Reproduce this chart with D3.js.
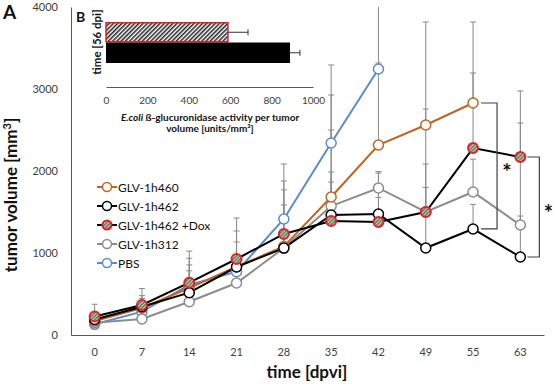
<!DOCTYPE html>
<html><head><meta charset="utf-8">
<script src="https://cdn.jsdelivr.net/npm/d3@7"></script>
<style>body{margin:0;background:#fff}svg{display:block;font-family:Lato,"Open Sans",sans-serif}</style>
</head><body><svg id="c" width="553" height="384"></svg>
<script>
const days = ["0","7","14","21","28","35","42","49","55","63"];
const yTicks = [0,1000,2000,3000,4000];
const seriesNames = ["GLV-1h460","GLV-1h462","GLV-1h462 +Dox","GLV-1h312","PBS"];
const v460 = [170,330,573,833,1080,1683,2317,2561,2829,null];
const v462 = [190,345,516,829,1060,1463,1475,1061,1293,951];
const vDox = [225,366,638,927,1232,1390,1378,1500,2280,2171];
const v312 = [150,195,406,634,1060,1573,1793,1500,1744,1341];
const vPBS = [130,285,610,772,1415,2341,3244,null,null,null];
const e460 = [80,150,210,435,690,1244,1000,1256,988,null];
const e462 = [70,100,420,305,525,525,500,1024,300,500];
const eDox = [150,200,385,500,646,476,300,300,915,805];
const e312 = [60,80,120,150,200,927,200,1256,400,1244];
const ePBS = [70,120,245,150,670,952,900,null,null,null];
const insetCats = ["GLV-1h462 +Dox","GLV-1h462"];
const insetVals = [589,889];
const insetErrs = [97,48];
const insetTicks = [0,200,400,600,800,1000];

const svg = d3.select("#c");
const defs = svg.append("defs");
const pat = defs.append("pattern").attr("id","hatch").attr("patternUnits","userSpaceOnUse")
  .attr("width",3).attr("height",3).attr("patternTransform","rotate(45)");
pat.append("rect").attr("width",3).attr("height",3).attr("fill","#fff");
pat.append("rect").attr("width",1.5).attr("height",3).attr("fill","#222");
const pat2 = defs.append("pattern").attr("id","hatchM").attr("patternUnits","userSpaceOnUse")
  .attr("width",2.5).attr("height",2.5).attr("patternTransform","rotate(45)");
pat2.append("rect").attr("width",2.5).attr("height",2.5).attr("fill","#c8d0b8");
pat2.append("rect").attr("width",1.2).attr("height",2.5).attr("fill","#55664a");
defs.append("clipPath").attr("id","plotclip").append("rect").attr("x",60).attr("y",7).attr("width",493).attr("height",340);

const x = d3.scaleBand().domain(days).range([71,544]);
const xc = d => x(d) + x.bandwidth()/2;
const y = d3.scaleLinear().domain([0,4000]).range([335,7]);

const series = [
  {name:seriesNames[0], v:v460, e:e460, color:"#c0651f", fill:"#fff", mstroke:"#c0651f"},
  {name:seriesNames[1], v:v462, e:e462, color:"#000", fill:"#fff", mstroke:"#000"},
  {name:seriesNames[2], v:vDox, e:eDox, color:"#000", fill:"url(#hatchM)", mstroke:"#e0202a"},
  {name:seriesNames[3], v:v312, e:e312, color:"#8c8c8c", fill:"#fff", mstroke:"#8c8c8c"},
  {name:seriesNames[4], v:vPBS, e:ePBS, color:"#5b8ad0", fill:"#fff", mstroke:"#5b8ad0"}
];

// axes
const ya = svg.append("g").attr("transform","translate(71,0)")
  .call(d3.axisLeft(y).tickValues(yTicks).tickSize(0).tickPadding(13).tickFormat(d3.format("d")));
ya.select(".domain").attr("stroke","#595959");
ya.selectAll("text").attr("font-size",11).attr("fill","#404040").attr("font-family","Lato,sans-serif");
const xa = svg.append("g").attr("transform","translate(0,335)")
  .call(d3.axisBottom(x).tickSize(0).tickPadding(13));
xa.select(".domain").attr("stroke","#595959");
xa.selectAll("text").attr("font-size",11).attr("fill","#404040").attr("font-family","Lato,sans-serif");

// error bars
const eg = svg.append("g").attr("clip-path","url(#plotclip)");
series.forEach(s => {
  days.forEach((d,i) => {
    if (s.v[i]==null || s.e[i]==null) return;
    const top = y(s.v[i]+s.e[i]);
    eg.append("line").attr("x1",xc(d)).attr("x2",xc(d)).attr("y1",y(s.v[i])).attr("y2",top)
      .attr("stroke","#888").attr("stroke-width",1);
    eg.append("line").attr("x1",xc(d)-3).attr("x2",xc(d)+3).attr("y1",top).attr("y2",top)
      .attr("stroke","#888").attr("stroke-width",1);
  });
});

// lines
const line = d3.line().defined(d=>d.v!=null).x(d=>xc(d.day)).y(d=>y(d.v));
const drawOrder = [4,3,0,1,2];
drawOrder.forEach(k => {
  const s = series[k];
  const pts = days.map((d,i)=>({day:d, v:s.v[i]}));
  svg.append("path").datum(pts).attr("d",line).attr("fill","none")
    .attr("stroke",s.color).attr("stroke-width",2);
});
drawOrder.forEach(k => {
  const s = series[k];
  days.forEach((d,i)=>{
    if (s.v[i]==null) return;
    svg.append("circle").attr("cx",xc(d)).attr("cy",y(s.v[i])).attr("r",5)
      .attr("fill",s.fill).attr("stroke",s.mstroke).attr("stroke-width", k===2?2:1.5);
  });
});

// significance brackets
function bracket(day, a, b, bx, stub, sx, sy) {
  const ya1 = y(a), yb1 = y(b), cx = xc(day);
  svg.append("path").attr("d",`M${cx+stub[0]},${ya1}H${cx+bx}V${yb1}H${cx+stub[1]}`)
    .attr("fill","none").attr("stroke","#404040").attr("stroke-width",1.2);
  svg.append("text").attr("x",cx+sx).attr("y",(ya1+yb1)/2+sy).attr("text-anchor","middle")
    .attr("font-size",22).attr("font-weight","bold").attr("fill","#111").text("*");
}
bracket("55", v460[8], v462[8], 24, [8,8], 34, 14);
bracket("63", vDox[9], v462[9], 19, [7,7], 28, 14);

// legend
const lg = svg.append("g");
series.forEach((s,i)=>{
  const yy = 187 + i*19;
  lg.append("line").attr("x1",97).attr("x2",117).attr("y1",yy).attr("y2",yy).attr("stroke",s.color).attr("stroke-width",2);
  lg.append("circle").attr("cx",107).attr("cy",yy).attr("r",4.5).attr("fill",s.fill).attr("stroke",s.mstroke).attr("stroke-width",i===2?2:1.5);
  lg.append("text").attr("x",118).attr("y",yy+4.5).attr("font-size",12).attr("fill","#111").text(s.name);
});

// titles
svg.append("text").attr("transform","translate(17,195) rotate(-90)").attr("text-anchor","middle")
  .attr("font-size",17).attr("font-weight","bold").attr("fill","#111")
  .html('tumor volume [mm<tspan dy="-6" font-size="11">3</tspan><tspan dy="6">]</tspan>');
svg.append("text").attr("x",307).attr("y",378).attr("text-anchor","middle")
  .attr("font-size",17).attr("font-weight","bold").attr("fill","#111").text("time [dpvi]");
svg.append("text").attr("x",3).attr("y",19).attr("font-size",19).attr("font-weight","bold").attr("fill","#111").text("A");
svg.append("text").attr("x",76).attr("y",22).attr("font-size",14).attr("font-weight","bold").attr("fill","#111").text("B");

// inset
const xi = d3.scaleLinear().domain([0,1000]).range([106,313]);
const yi = d3.scaleBand().domain(insetCats).range([22,63]).padding(0);
const ig = svg.append("g");
const ia = ig.append("g").attr("transform","translate(0,87)")
  .call(d3.axisBottom(xi).tickValues(insetTicks).tickSize(0).tickPadding(10).tickFormat(d3.format("d")));
ia.select(".domain").attr("stroke","#595959");
ia.selectAll("text").attr("font-size",10).attr("fill","#404040").attr("font-family","Lato,sans-serif");
insetCats.forEach((c,i)=>{
  ig.append("rect").attr("x",xi(0)).attr("y",yi(c)+(i===0?0.75:0)).attr("width",xi(insetVals[i])-xi(0))
    .attr("height",yi.bandwidth()-(i===0?1.5:0))
    .attr("fill", i===0?"url(#hatch)":"#000").attr("stroke", i===0?"#e0202a":"none").attr("stroke-width",1.5);
  const cy = yi(c)+yi.bandwidth()/2, x1 = xi(insetVals[i]), x2 = xi(insetVals[i]+insetErrs[i]);
  ig.append("line").attr("x1",x1).attr("x2",x2).attr("y1",cy).attr("y2",cy).attr("stroke","#333");
  ig.append("line").attr("x1",x2).attr("x2",x2).attr("y1",cy-3).attr("y2",cy+3).attr("stroke","#333");
});
ig.append("text").attr("transform","translate(101,42) rotate(-90)").attr("text-anchor","middle")
  .attr("font-size",11.5).attr("font-weight","bold").attr("fill","#111").text("time [56 dpi]");
ig.append("text").attr("x",210).attr("y",121).attr("text-anchor","middle").attr("font-size",10).attr("font-weight","bold").attr("fill","#111")
  .html('<tspan font-style="italic">E.coli</tspan> ß-glucuronidase activity per tumor');
ig.append("text").attr("x",210).attr("y",132).attr("text-anchor","middle").attr("font-size",10).attr("font-weight","bold").attr("fill","#111")
  .text("volume [units/mm³]");
</script></body></html>
